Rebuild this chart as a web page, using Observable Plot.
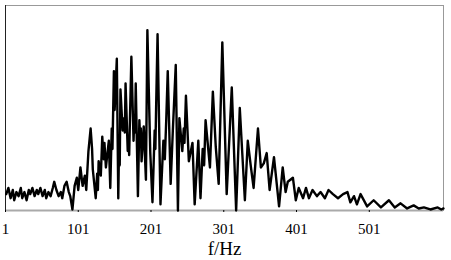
<!DOCTYPE html>
<html>
<head>
<meta charset="utf-8">
<script src="https://cdn.jsdelivr.net/npm/d3@7"></script>
<script src="https://cdn.jsdelivr.net/npm/@observablehq/plot@0.6"></script>
<style>
  html, body { margin: 0; padding: 0; background: #fff; }
  #chart svg { display: block; }
  #chart svg text { font-family: "Liberation Serif", "DejaVu Serif", serif !important; }
</style>
</head>
<body>
<div id="chart"></div>
<script>
// Frequency (Hz) of each read point
const freq = [
  2,5,8,11,13,16,19,22,24,27,30,33,35,38,41,44,46,49,52,55,57,60,63,66,68,71,74,77,79,82,85,88,90,93,
  96,99,101,104,107,110,112,115,118,120,121,125,127,128,129,132,134,136,137,139,143,145,147,148,150,151,154,156,157,158,159,162,164,165,166,169,170,171,172,
  174,177,178,179,180,183,185,186,187,188,191,194,196,200,203,206,207,208,210,214,218,220,222,224,228,231,235,238,240,244,246,247,249,253,258,261,
  266,269,272,274,276,282,286,290,294,299,305,312,318,323,330,334,338,342,348,352,356,360,364,370,377,382,386,389,
  396,400,404,410,414,418,423,429,434,440,445,451,458,465,471,475,480,484,489,498,507,517,528,536,544,553,562,569,576,585,595,600,603
];
// Spectrum amplitude (arbitrary units, 0–100)
const amp = [
  8,11,6,10,5,9,7,11,6,9,5,10,8,11,7,10,8,11,7,10,6,9,7,11,14,10,7,9,6,12,14,9,7,0.5,
  12,16,10,21,12,17,10,29,40,30,20,6,18,10,24,17,36,25,33,21,34,11,40,30,68,49,74,6,30,22,59,39,45,38,62,29,36,27,44,
  75,34,45,38,62,7,44,35,40,24,41,15,88,28,4,39,30,50,86,3,34,25,45,68,13,39,71,0,45,29,40,33,56,24,33,3,
  34,6,30,22,44,21,58,31,13,82,8,60,0,50,5,34,22,11,40,21,23,28,10,26,2,21,9,14,
  16,5,11,6,11,6,10,7,9,6,10,8,6,8,9,4,7,3,8,2,5,1.5,5,1.5,3.5,1,2.5,1,1.5,0.5,1.5,0.5,1
];
const tickValues = [1, 101, 201, 301, 401, 501];
const xLabel = "f/Hz";

const data = freq.map((f, i) => ({f, a: amp[i]}));
const serif = "Liberation Serif, DejaVu Serif, serif";

const chart = Plot.plot({
  width: 451,
  height: 260,
  marginLeft: 5,
  marginRight: 8,
  marginTop: 5,
  marginBottom: 50,
  style: {fontFamily: serif, fontSize: "15px", color: "#000", background: "#fff"},
  x: {domain: [1, 603]},
  y: {domain: [0, 100]},
  marks: [
    Plot.frame({stroke: "#999", strokeWidth: 1}),
    Plot.ruleY([0], {stroke: "#aaa", strokeWidth: 2}),
    Plot.ruleX([1], {stroke: "#222", strokeWidth: 1}),
    Plot.axisX({ticks: tickValues, tickFormat: d => String(d), tickSize: 2, tickPadding: 11, label: null, fontSize: 15}),
    Plot.axisY({ticks: [], label: null}),
    Plot.line(data, {x: "f", y: "a", stroke: "#000", strokeWidth: 2.4, strokeLinejoin: "round"}),
    Plot.text([xLabel], {frameAnchor: "bottom", dy: 38, lineAnchor: "middle", fontSize: 19, fill: "#000"})
  ]
});
document.getElementById("chart").append(chart);
</script>
</body>
</html>
